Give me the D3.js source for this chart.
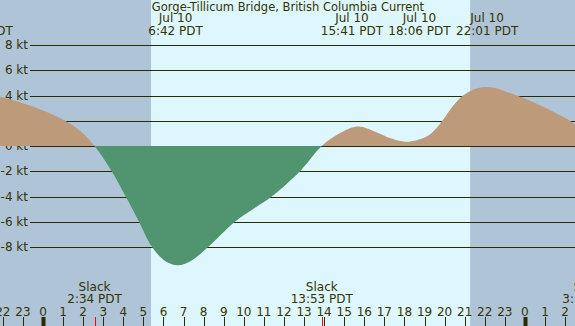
<!DOCTYPE html>
<html>
<head>
<meta charset="utf-8">
<script src="https://cdn.jsdelivr.net/npm/d3@7"></script>
<style>
  body { margin: 0; padding: 0; background: #fff; }
  svg { display: block; }
  text { font-family: "DejaVu Sans", sans-serif; fill: #333300; }
</style>
</head>
<body>
<svg id="main" width="575" height="326"></svg>
<script>
// hours since Jul 10 00:00 PDT
var hours = [-4, -2.53, -2.14, -0.65, 1.1, 1.84, 2.567, 3.42, 4.12, 4.78, 5.43, 6.08, 6.7, 7.32, 8.22, 9.56, 10.56, 11.39, 12.8, 13.883,
             14.79, 15.683, 16.78, 17.28, 18.1, 19.11, 19.6, 20.92, 22.017, 23.59, 25.55, 26.49, 27.22];
var speeds = [3.5, 3.95, 3.88, 3.2, 2.0, 1.2, 0, -2, -4, -6, -8, -9.1, -9.44, -9.15, -8, -6, -4.9, -4, -2, 0,
              1.03, 1.55, 0.98, 0.63, 0.34, 0.76, 1.43, 4.0, 4.67, 4.0, 2.6, 1.7, 0];

var yTicks = [8, 6, 4, 2, 0, -2, -4, -6, -8];
var hourTicks = d3.range(-2, 27);
var daylight = [5.38, 21.27];

var eventHours = [-2.55, 6.7, 15.683, 18.1, 22.017];
var eventDays = ["Jul 9", "Jul 10", "Jul 10", "Jul 10", "Jul 10"];
var eventTimes = ["21:27 PDT", "6:42 PDT", "15:41 PDT", "18:06 PDT", "22:01 PDT"];

var slackHours = [2.567, 13.883, 27.22];
var slackTimes = ["2:34 PDT", "13:53 PDT", "3:13 PDT"];

var title = "Gorge-Tillicum Bridge, British Columbia Current";

var svg = d3.select("#main"),
    width = +svg.attr("width"),
    height = +svg.attr("height");

var xScale = d3.scaleLinear()
        .domain([-2.1414, 26.494])
        .range([0, width]),
    yScale = d3.scaleLinear()
        .domain([-8, 8])
        .range([247, 45]);

var data = hours.map(function(h, i) { return {h: h, v: speeds[i]}; });

// night / day background
svg.append("rect")
    .attr("width", width).attr("height", height)
    .attr("fill", "#b0c4d8");
svg.append("rect")
    .attr("x", xScale(daylight[0]))
    .attr("width", xScale(daylight[1]) - xScale(daylight[0]))
    .attr("height", height)
    .attr("fill", "#def7fe");

// gridlines + labels
var grid = svg.append("g");
grid.selectAll("line")
    .data(yTicks)
    .enter().append("line")
    .attr("x1", 30).attr("x2", width)
    .attr("y1", function(d) { return Math.round(yScale(d)) + 0.5; })
    .attr("y2", function(d) { return Math.round(yScale(d)) + 0.5; })
    .attr("stroke", "#2b2b00")
    .attr("stroke-width", 1.2);
grid.selectAll("text")
    .data(yTicks)
    .enter().append("text")
    .attr("x", 28)
    .attr("y", function(d) { return Math.round(yScale(d)); })
    .attr("dy", "0.36em")
    .attr("text-anchor", "end")
    .style("font-size", "12px")
    .text(function(d) { return d + " kt"; });

// current area, split at zero
var y0 = yScale(0);
var defs = svg.append("defs");
defs.append("clipPath").attr("id", "above")
    .append("rect").attr("x", 0).attr("y", 0).attr("width", width).attr("height", Math.round(y0));
defs.append("clipPath").attr("id", "below")
    .append("rect").attr("x", 0).attr("y", Math.round(y0)).attr("width", width).attr("height", height);

var area = d3.area()
    .x(function(d) { return xScale(d.h); })
    .y0(y0)
    .y1(function(d) { return yScale(d.v); })
    .curve(d3.curveCatmullRom.alpha(0.5));

svg.append("path")
    .attr("d", area(data))
    .attr("clip-path", "url(#above)")
    .attr("fill", "#bc9a7a");
svg.append("path")
    .attr("d", area(data))
    .attr("clip-path", "url(#below)")
    .attr("fill", "#519470");

// header
svg.append("text")
    .attr("x", 288).attr("y", 11)
    .attr("text-anchor", "middle")
    .style("font-size", "11.5px")
    .text(title);

var headerShift = [-10, -2, -6, 13, 2];
var hdr = svg.append("g").selectAll("g")
    .data(eventHours)
    .enter().append("g")
    .attr("transform", function(d, i) { return "translate(" + (xScale(d) + headerShift[i]) + ",0)"; });
hdr.append("text")
    .attr("y", 22)
    .attr("text-anchor", "middle")
    .style("font-size", "12px")
    .text(function(d, i) { return eventDays[i]; });
hdr.append("text")
    .attr("y", 35)
    .attr("text-anchor", "middle")
    .style("font-size", "12px")
    .text(function(d, i) { return eventTimes[i]; });

// bottom hour axis
var axis = svg.append("g");
axis.selectAll("line")
    .data(hourTicks)
    .enter().append("line")
    .attr("x1", function(d) { return Math.round(xScale(d)) + 0.5; })
    .attr("x2", function(d) { return Math.round(xScale(d)) + 0.5; })
    .attr("y1", 317).attr("y2", height)
    .attr("stroke", "#2b2b00")
    .attr("stroke-width", function(d) { return d % 24 === 0 ? 4 : 1; });
axis.selectAll("text")
    .data(hourTicks)
    .enter().append("text")
    .attr("x", function(d) { return xScale(d); })
    .attr("y", 316)
    .attr("text-anchor", "middle")
    .style("font-size", "12px")
    .text(function(d) { return ((d % 24) + 24) % 24; });

// slack marks
var slack = svg.append("g").selectAll("g")
    .data(slackHours)
    .enter().append("g");
slack.append("line")
    .attr("x1", function(d) { return Math.round(xScale(d)) + 0.5; })
    .attr("x2", function(d) { return Math.round(xScale(d)) + 0.5; })
    .attr("y1", 317).attr("y2", height)
    .attr("stroke", "red");
slack.append("text")
    .attr("x", function(d) { return xScale(d); })
    .attr("y", 291)
    .attr("text-anchor", "middle")
    .style("font-size", "12px")
    .text("Slack");
slack.append("text")
    .attr("x", function(d) { return xScale(d); })
    .attr("y", 303)
    .attr("text-anchor", "middle")
    .style("font-size", "12px")
    .text(function(d, i) { return slackTimes[i]; });
</script>
</body>
</html>
